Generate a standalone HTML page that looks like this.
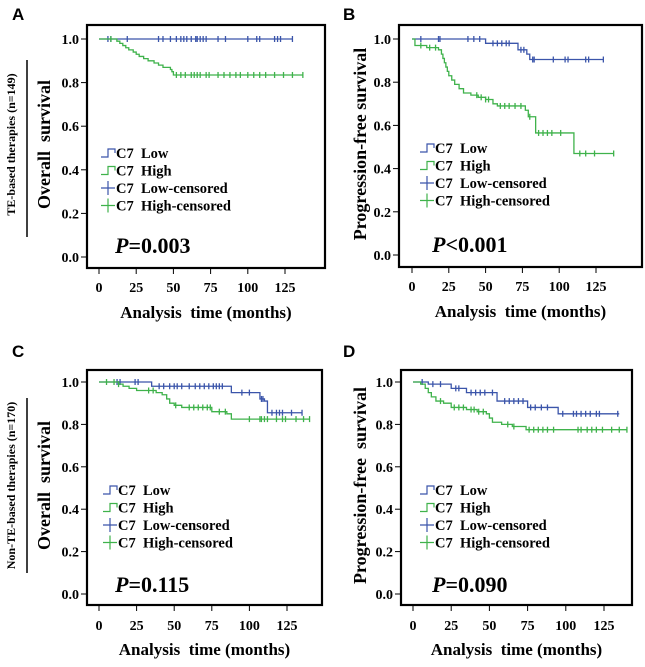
<!DOCTYPE html>
<html><head><meta charset="utf-8"><style>
body{margin:0;background:#fff}
svg text{font-family:"Liberation Serif",serif;font-weight:bold}
</style></head><body>
<svg id="fig" width="645" height="662" xmlns="http://www.w3.org/2000/svg"></svg>
<script>
// Panel A
const aLowT=[0,130], aLowS=[1,1];
const aHighT=[0,12,14,16,18,20,23,25,27,30,33,37,40,43,48,49,50,137];
const aHighS=[1,0.99,0.98,0.97,0.96,0.95,0.94,0.93,0.92,0.91,0.90,0.89,0.88,0.87,0.86,0.85,0.835,0.835];
const aLowC=[6,8,19,40,43,48,52,55,57,59,62,65,66,68,70,72,80,85,100,106,108,118,120,122,130];
const aHighC=[8,52,55,58,62,64,66,68,72,74,80,84,88,92,95,100,104,108,112,118,124,130,137];
// Panel B
const bLowT=[0,50,72,78,80,130], bLowS=[1,0.98,0.95,0.93,0.905,0.905];
const bHighT=[0,2,10,18,20,21,22,23,24,25,27,29,32,35,40,45,50,55,58,77,79,84,110,137];
const bHighS=[1,0.97,0.96,0.95,0.93,0.91,0.89,0.87,0.85,0.83,0.81,0.79,0.77,0.75,0.74,0.73,0.72,0.70,0.69,0.67,0.64,0.565,0.47,0.47];
const bLowC=[6,18,19,38,42,46,55,58,61,64,66,74,76,82,83,96,104,106,118,120,130];
const bHighC=[6,12,16,44,47,50,52,60,63,66,70,74,80,86,89,92,95,101,114,118,124,137];
// Panel C
const cLowT=[0,35,88,107,110,112,135], cLowS=[1,0.98,0.95,0.92,0.91,0.855,0.855];
const cHighT=[0,13,16,20,25,38,42,45,47,50,55,75,85,88,140];
const cHighS=[1,0.99,0.98,0.97,0.96,0.95,0.94,0.92,0.90,0.89,0.88,0.86,0.85,0.825,0.825];
const cLowC=[12,14,24,26,40,43,47,50,52,55,60,64,67,70,73,76,78,80,82,95,100,108,109,115,118,120,122,128,135];
const cHighC=[5,10,13,33,36,51,60,63,66,69,72,74,80,84,100,107,108,110,112,118,122,124,131,136,140];
// Panel D
const dLowT=[0,10,25,35,55,75,95,135], dLowS=[1,0.99,0.97,0.95,0.91,0.88,0.85,0.85];
const dHighT=[0,5,8,10,12,15,20,25,35,42,48,50,52,58,65,74,140];
const dHighS=[1,0.99,0.97,0.95,0.93,0.91,0.90,0.88,0.87,0.86,0.85,0.83,0.81,0.80,0.79,0.775,0.775];
const dLowC=[6,13,18,28,30,38,41,44,47,52,60,63,66,69,72,77,80,84,88,98,105,107,110,113,116,120,122,134];
const dHighC=[18,27,30,33,38,40,43,46,62,66,76,79,82,85,88,92,108,110,114,117,120,124,130,135,140];
const yTicks=[0,0.2,0.4,0.6,0.8,1.0];
const xTicks=[0,25,50,75,100,125];
const BLUE="#3b55aa", GREEN="#3fb24b";
const NS="http://www.w3.org/2000/svg";
const svg=document.getElementById('fig');
function mk(tag,attrs,parent,txt){const e=document.createElementNS(NS,tag);for(const k in attrs)e.setAttribute(k,attrs[k]);if(txt!==undefined)e.textContent=txt;(parent||svg).appendChild(e);return e;}
const panels=[
 {id:'a',letter:'A',lx:12,ly:20,box:[87,25,325,268],x0:99,x125:285,y1:39,y0:257,tickY:292,titleY:318,ytitle:'Overall  survival',ytx:50,outer:'TE-based therapies (n=149)',oline:[60,237],p:'=0.003',px:115,pY:253,leg:[118,153],series:[[aLowT,aLowS,aLowC,BLUE,'low'],[aHighT,aHighS,aHighC,GREEN,'high']]},
 {id:'b',letter:'B',lx:343,ly:20,box:[399,25,642,267],x0:412,x125:596,y1:39,y0:255,tickY:291,titleY:317,ytitle:'Progression-free survival',ytx:366,p:'<0.001',px:432,pY:252,leg:[437,148],series:[[bLowT,bLowS,bLowC,BLUE,'low'],[bHighT,bHighS,bHighC,GREEN,'high']]},
 {id:'c',letter:'C',lx:12,ly:357,box:[87,370,322,605],x0:99,x125:287,y1:382,y0:594,tickY:630,titleY:655,ytitle:'Overall  survival',ytx:50,outer:'Non-TE-based therapies (n=170)',oline:[398,573],p:'=0.115',px:115,pY:592,leg:[120,490],series:[[cLowT,cLowS,cLowC,BLUE,'low'],[cHighT,cHighS,cHighC,GREEN,'high']]},
 {id:'d',letter:'D',lx:343,ly:357,box:[401,370,632,605],x0:413,x125:604,y1:382,y0:594,tickY:630,titleY:655,ytitle:'Progression-free  survival',ytx:366,p:'=0.090',px:432,pY:592,leg:[437,490],series:[[dLowT,dLowS,dLowC,BLUE,'low'],[dHighT,dHighS,dHighC,GREEN,'high']]}
];
panels.forEach(P=>{
 const [bx1,by1,bx2,by2]=P.box;
 const yv=v=>P.y0+(P.y1-P.y0)*v;
 const xv=t=>P.x0+(P.x125-P.x0)*t/125;
 const g=mk('g',{});
 
 
 const L=mk('text',{x:P.lx,y:P.ly,'font-size':'17',style:'font-family:"Liberation Sans",sans-serif'},g,P.letter);
 
 
 const r=mk('rect',{x:bx1,y:by1,width:bx2-bx1,height:by2-by1,fill:'none',stroke:'#000','stroke-width':2.2},g);
 
 
 yTicks.forEach(v=>{
  mk('line',{x1:bx1-6,x2:bx1,y1:yv(v),y2:yv(v),stroke:'#000','stroke-width':1},g);
  const t=mk('text',{x:bx1-8,y:yv(v)+5,'font-size':'14','text-anchor':'end'},g,v.toFixed(1));
  
  
 });
 xTicks.forEach(v=>{
  mk('line',{x1:xv(v),x2:xv(v),y1:by2,y2:by2+6,stroke:'#000','stroke-width':1},g);
  const t=mk('text',{x:xv(v),y:P.tickY,'font-size':'14','text-anchor':'middle'},g,String(v));
  
  
 });
 const xt=mk('text',{x:(bx1+bx2)/2,y:P.titleY,'font-size':'17','text-anchor':'middle',style:'white-space:pre'},g,'Analysis  time (months)');
 
 
 const cy=(by1+by2)/2;
 const yt=mk('text',{x:0,y:0,'font-size':'18','text-anchor':'middle',transform:`translate(${P.ytx},${cy-2}) rotate(-90)`,style:'white-space:pre'},g,P.ytitle);
 
 
 if(P.outer){
  const ot=mk('text',{x:0,y:0,'font-size':'12','text-anchor':'middle',transform:`translate(15,${cy-2}) rotate(-90)`},g,P.outer);
  
  
  mk('line',{x1:27,x2:27,y1:P.oline[0],y2:P.oline[1],stroke:'#000','stroke-width':1.5},g);
 }
 P.series.forEach(([T,S,C,col,nm])=>{
  let d=`M${xv(T[0])},${yv(S[0])}`;
  for(let i=1;i<T.length;i++){d+=`H${xv(T[i])}V${yv(S[i])}`;}
  const p=mk('path',{d:d,fill:'none',stroke:col,'stroke-width':1.3},g);
  
  
  const sAt=t=>{let s=S[0];for(let i=0;i<T.length;i++){if(T[i]<=t)s=S[i];}return s;};
  C.forEach(t=>{
   const x=xv(t),y=yv(sAt(t));
   const c=mk('path',{d:`M${x},${y-3}V${y+3}`,stroke:col,'stroke-width':1.3},g);
   
   
  });
 });
 const [lx,ly]=P.leg;
 const items=[['C7  Low',BLUE,'step'],['C7  High',GREEN,'step'],['C7  Low-censored',BLUE,'plus'],['C7  High-censored',GREEN,'plus']];
 items.forEach((it,i)=>{
  const y=ly+i*17.5;
  if(it[2]==='step') mk('path',{d:`M${lx-17},${y+4}H${lx-10}V${y-4}H${lx-3}V${y}`,fill:'none',stroke:it[1],'stroke-width':1.2},g);
  else mk('path',{d:`M${lx-17},${y}H${lx-3}M${lx-10},${y-7}V${y+7}`,fill:'none',stroke:it[1],'stroke-width':1.2},g);
  const t=mk('text',{x:lx-2,y:y+5,'font-size':'14.5',style:'white-space:pre'},g,it[0]);
  
  
 });
 const pt=mk('text',{x:P.px,y:P.pY,'font-size':'22'},g);
 
 
 mk('tspan',{'font-style':'italic'},pt,'P');
 mk('tspan',{},pt,P.p);
});
</script>
</body></html>
